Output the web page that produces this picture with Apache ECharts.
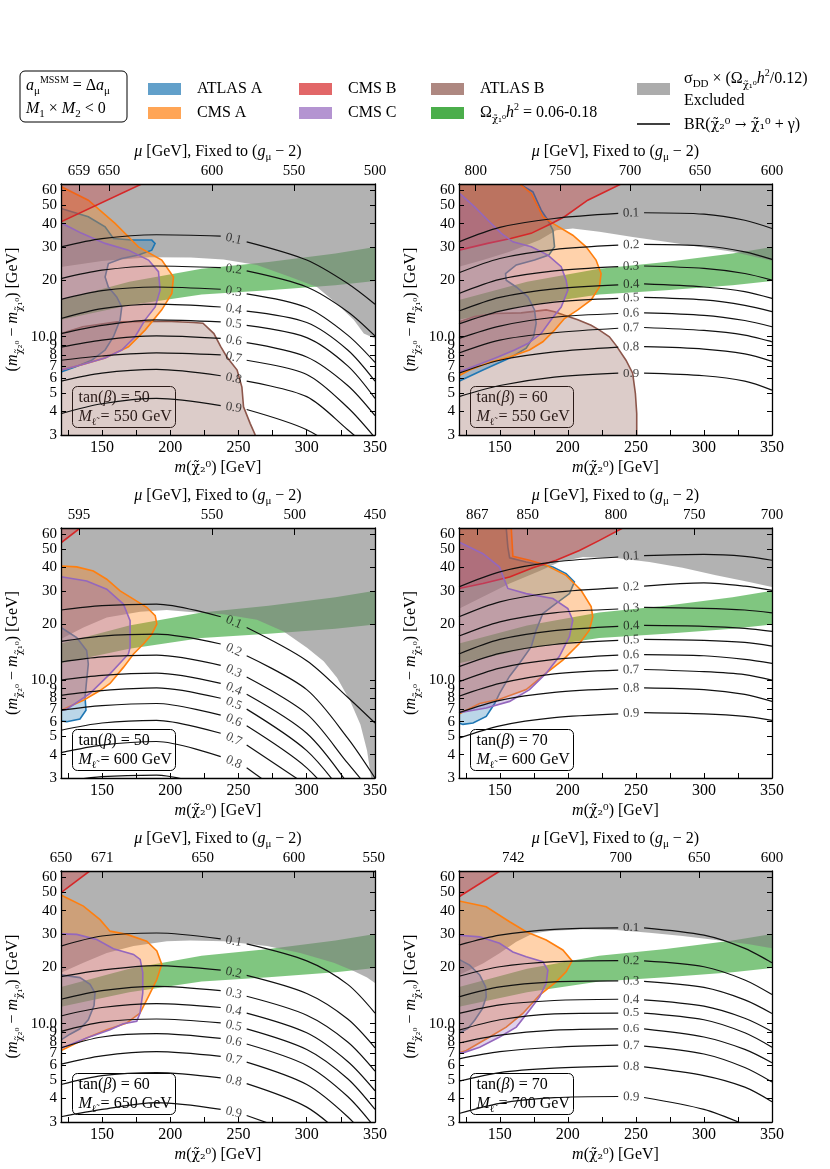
<!DOCTYPE html>
<html><head><meta charset="utf-8">
<script src="https://cdn.jsdelivr.net/npm/echarts@6.0.0/dist/echarts.min.js"></script>
<style>html,body{margin:0;padding:0;background:#fff;}#chart{width:830px;height:1169px;}</style>
</head><body><div id="chart"></div>
<script>
// ---------------- DATA ----------------
const brLevels = ['0.1','0.2','0.3','0.4','0.5','0.6','0.7','0.8','0.9'];
const brX = [120,150,190,237,256,300,330,350];
const yTickValues = [3,4,5,6,7,8,9,10,20,30,40,50,60];
const xTickValues = [125,150,175,200,225,250,275,300,325,350];
const xLabelValues = [150,200,250,300,350];
const panelTanBeta = ['50','60','50','70','60','70'];
const panelMslep = ['550','550','600','600','650','700'];

const muPos1 = [133.2,155.2,230.6,290.7,350]; const muLab1 = ['659','650','600','550','500'];
const muPos2 = [132.3,194.2,245.6,297.1,350]; const muLab2 = ['800','750','700','650','600'];
const muPos3 = [133.2,230.6,291.2,350];       const muLab3 = ['595','550','500','450'];
const muPos4 = [133.4,170.5,235.4,292.9,350]; const muLab4 = ['867','850','800','750','700'];
const muPos5 = [120,150.3,223.8,290.7,349];   const muLab5 = ['650','671','650','600','550'];
const muPos6 = [159.9,238.8,296.5,350];       const muLab6 = ['742','700','650','600'];

// relic density band (upper / lower edge)
const greenUpper = [[120,15.7],[170,19.6],[223,23.0],[272,25.0],[321,27.7],[350,30.0]];
const greenLower = [[120,12.3],[170,14.7],[223,16.8],[272,17.7],[321,18.8],[350,19.8]];

// BR contours (y values at brX)
const p1BR = [
 [30.1,33.3,34.9,34.3,32.0,25.6,19.2,14.9],
 [20.4,22.6,23.8,23.3,22.4,18.4,13.6,10.1],
 [15.8,17.6,18.4,17.9,16.9,14.3,10.2,7.3],
 [12.5,14.1,14.9,14.4,13.7,11.9,8.5,5.8],
 [10.4,11.5,12.3,12.0,11.5,9.9,7.0,4.7],
 [8.8,9.6,10.1,9.8,9.3,7.8,5.5,3.8],
 [7.5,7.9,8.2,8.0,7.5,6.3,4.2,2.9],
 [5.8,6.4,6.7,6.2,5.8,4.8,3.2,2.4],
 [3.9,4.4,4.7,4.3,4.1,3.2,2.3]];
const p2BR = [
 [32.0,38.2,42.6,45.3,45.7,44.9,41.7,37.7],
 [21.9,26.1,29.1,30.7,31.0,30.4,28.3,25.8],
 [17.0,20.2,22.4,23.6,23.8,23.1,21.7,20.0],
 [13.7,16.2,18.0,18.9,19.1,18.4,17.4,16.0],
 [11.7,13.7,15.3,16.0,16.2,15.7,14.7,13.6],
 [9.8,11.4,12.7,13.3,13.4,13.0,12.2,11.3],
 [8.2,9.6,10.5,11.1,11.2,10.8,10.2,9.4],
 [6.4,7.5,8.3,8.8,8.85,8.6,8.1,7.4],
 [4.8,5.5,6.1,6.4,6.4,6.2,5.8,5.2]];
const p3BR = [
 [23.7,25.0,25.5,21.8,19.1,12.7,8.1,5.9],
 [16.1,17.2,17.6,15.6,13.5,8.9,4.9,3.0],
 [12.5,13.3,13.6,12.0,10.4,6.6,3.6,2.4],
 [10.0,10.6,10.9,9.6,8.4,5.2,2.8],
 [8.3,8.8,9.1,8.0,7.0,4.2,2.3],
 [6.9,7.3,7.5,6.5,5.7,3.4,1.9],
 [5.4,5.9,6.1,5.2,4.5,2.75],
 [4.1,4.5,4.7,3.9,3.4,2.0],
 [2.87,3.05,3.11,2.6]];
const p4BR = [
 [31.5,37.9,42.8,45.5,46.3,47.0,45.9,43.7],
 [21.8,26.2,29.4,31.1,31.8,33.1,31.8,30.2],
 [17.2,20.5,22.9,24.0,24.5,24.2,23.7,22.9],
 [13.8,16.5,18.4,19.4,19.6,19.4,18.9,18.2],
 [11.8,13.9,15.5,16.3,16.5,16.3,15.9,15.2],
 [9.8,11.6,12.9,13.6,13.7,13.5,12.9,12.3],
 [8.2,9.6,10.8,11.3,11.4,11.1,10.7,10.0],
 [6.7,7.8,8.6,9.0,9.1,8.9,8.4,7.7],
 [4.9,5.7,6.3,6.6,6.7,6.6,6.4,6.1]];
const p5BR = [
 [25.9,29.3,30.4,28.3,26.6,21.6,16.2,11.4],
 [17.8,19.3,20.4,19.3,18.1,14.5,10.6,7.45],
 [13.5,15.0,15.8,15.0,14.0,11.1,8.0,5.6],
 [11.0,12.2,12.8,12.2,11.4,8.95,6.3,4.4],
 [9.1,10.2,10.6,10.1,9.4,7.3,5.1,3.5],
 [7.45,8.5,8.85,8.35,7.8,6.0,4.1,2.8],
 [6.1,6.75,7.1,6.7,6.25,4.75,3.2,2.2],
 [4.75,5.3,5.5,5.15,4.8,3.6,2.4],
 [3.2,3.5,3.8,3.5,3.25,2.5]];
const p6BR = [
 [26.2,29.6,31.8,32.4,32.4,29.6,25.2,21.1],
 [17.9,20.1,21.4,21.7,21.6,20.1,17.1,14.3],
 [13.9,15.7,16.7,16.9,16.8,15.6,13.4,11.35],
 [11.35,12.6,13.3,13.5,13.4,12.4,10.7,9.1],
 [9.25,10.5,11.3,11.4,11.4,10.5,8.95,7.5],
 [7.9,8.7,9.25,9.4,9.4,8.5,7.3,6.2],
 [6.5,7.1,7.5,7.7,7.6,6.9,5.85,4.9],
 [4.95,5.5,5.8,5.95,5.9,5.3,4.6,3.85],
 [3.33,3.77,4.04,4.1,4.05,3.5,2.9]];

// excluded (sigma_DD) lower boundary
const p1Gray = [[120,23.5],[150,25.3],[185,26.5],[215,26.4],[239,25.8],[263.5,24.1],[288,20.8],[307.5,18.4],[322,15.0],[334.4,12.3],[341.8,10.4],[350,9.8]];
const p2Gray = [[120,23.6],[137.6,25.6],[157.2,28.3],[179.2,32.7],[191.4,36.9],[203.6,37.7],[223.2,36.2],[247.6,34.0],[272,32.0],[296.5,30.1],[321,28.3],[350,25.4]];
const p3Gray = [[120,16.6],[136.4,19.1],[153.5,21.6],[177.9,23.2],[197.5,23.7],[214.6,23.1],[239.1,22.5],[263.5,21.0],[283.1,18.2],[300.2,14.9],[312.4,12.6],[322.2,10.3],[332,7.7],[339.3,5.8],[344.2,4.2],[347.2,3.0],[350,3]];
const p4Gray = [[120,24.1],[137.6,27.9],[157.2,32.8],[179.2,38.3],[193.8,42.8],[211,45.5],[235.4,45.0],[259.9,42.8],[284.3,39.9],[308.8,36.3],[333.2,33.5],[350,31.5]];
const p5Gray = [[120,18.7],[136.4,21.1],[153.5,23.8],[173.1,25.9],[197.5,27.5],[214.6,27.7],[239.1,27.5],[270.9,25.9],[295.3,23.8],[319.8,21.1],[334.4,19.1],[344.2,17.6],[350,16.5]];
const p6Gray = [[120,18.2],[137.6,20.9],[149.8,23.7],[162.1,27.3],[174.3,30.2],[186.5,31.2],[211,31.8],[235.4,31.5],[259.9,30.5],[284.3,29.3],[308.8,27.9],[333.2,26.5],[350,25.2]];

// CMS B
const p1Red = [[120,40.9],[179,65]];
const p2Red = [[120,28.9],[141,31.4],[158,33.3],[173,35.5],[188,40.1],[197.5,43.5],[214.6,53.3],[239,65]];
const p3Red = [[120,54.2],[134,65]];
const p4Red = [[120,30.9],[137.6,32.8],[157.2,35.6],[174.3,39.9],[191.4,43.7],[208.5,49.3],[223.2,55.8],[240.3,65]];
const p5Red = [[120,49.8],[141,65]];
const p6Red = [[120,47.4],[150,65]];

// CMS A
const p1Orange = [[120,63],[140,53.3],[159.6,40.1],[176.7,30.1],[193.8,25.6],[202.4,20.8],[201.2,17.0],[193.8,13.9],[181.6,10.85],[169.4,8.85],[152.3,7.7],[135.2,7.1],[120,6.65]];
const p2Orange = [[164.5,65],[173.1,57.9],[181.6,43.5],[189,40.1],[203.6,34.7],[213.4,30.1],[220.7,25.6],[224.4,21.7],[223.2,18.4],[217.1,15.7],[207.3,13.9],[197.5,12.5],[190.2,10.85],[181.6,9.4],[171.8,8.5],[157.2,7.8],[142.5,7.3],[127.8,6.65],[120,6.2]];
const p3Orange = [[120,40.7],[131.5,40.3],[143.7,38.3],[153.5,34.6],[163.3,30.0],[173.1,27.1],[182.8,24.5],[189,22.1],[190.2,19.9],[186.5,17.6],[180.4,15.6],[173.1,13.8],[165.7,11.7],[155.9,9.6],[148.6,8.8],[136.4,7.8],[120,6.9]];
const p4Orange = [[158.4,65],[159.6,45.9],[171.8,43.7],[184.1,41.1],[198.7,36.3],[209.7,30.2],[217.1,24.7],[218.3,21.8],[215.8,18.5],[208.5,15.7],[196.3,12.8],[184.1,10.9],[169.4,8.9],[149.8,7.9],[135.2,7.5],[120,6.6]];
const p5Orange = [[120,48.4],[136.4,42.3],[148.6,35.8],[155.9,31.1],[168.2,29.9],[182.8,27.5],[190.2,24.4],[193.8,20.7],[190.2,17.2],[184.1,14.0],[177.9,11.4],[168.2,10.1],[153.5,9.3],[138.8,8.4],[124.2,7.45],[120,7.2]];
const p6Orange = [[120,45.0],[140,41.9],[157.2,34.9],[169.4,30.9],[184.1,27.9],[196.3,24.7],[203.1,21.6],[198.7,18.9],[191.4,16.7],[179.2,14.2],[166.9,11.35],[154.7,9.6],[142.5,8.5],[125.4,7.2],[120,7.0]];

// ATLAS A
const p1Blue = [[120,48.2],[140,43.5],[152.3,38.5],[158.4,33.3],[171.8,32.7],[186.5,32.7],[188.9,31.4],[186.5,28.9],[176.7,27.2],[164.5,26.1],[154.7,24.5],[152.3,20.8],[154.7,18.4],[160.8,16.3],[164.5,14.4],[163.3,12.3],[158.4,10],[152.3,8.5],[142.5,7.5],[130.3,6.9],[120,6.5]];
const p2Blue = [[164.5,65],[174.3,59.1],[180.4,47.2],[185.3,41.7],[189,36.9],[190.2,30.1],[186,27.2],[175.5,25.6],[162.1,24.1],[154.2,21.7],[154.7,20.0],[162.1,18.4],[170.6,16.3],[175.5,13.9],[176.7,11.8],[174.8,10],[169.4,8.7],[157.2,7.7],[137.6,6.65],[120,5.8]];
const p3Blue = [[120,19.1],[131.5,16.9],[138.8,14.4],[140,12.2],[138.8,10.0],[137.6,8.1],[138.3,6.9],[133.9,6.2],[124.2,6.0],[120,6.05]];
const p4Blue = [[154.7,65],[155.9,51.4],[157.2,45.0],[169.4,42.8],[189,40.2],[198.7,37.1],[204.8,33.5],[201.2,29.0],[191.4,25.7],[181.6,22.7],[176.7,18.5],[173.1,15.1],[164.5,12.3],[157.2,10.5],[149.8,8.5],[146.2,7.5],[140,6.4],[130.3,5.9],[122.9,5.8],[120,5.9]];
const p5Blue = [[120,18.2],[133.9,17.6],[141.3,16.2],[144.9,14.6],[144.2,12.5],[140,10.5],[133.9,9.4],[126.6,8.8],[120,8.2]];
const p6Blue = [[120,22.0],[127.8,20.5],[135.2,18.2],[139.6,15.7],[140,13.9],[137.1,12.0],[131.5,10.45],[126.6,9.45],[120,8.9]];

// CMS C
const p1Purple = [[120,40.4],[135.2,35.5],[152.3,31.4],[169.4,28.9],[184.1,25.6],[191.4,22.2],[192.6,17.7],[189,14.4],[181.6,12.3],[174.3,10],[164.5,8.5],[152.3,7.7],[135.2,7.1],[120,6.65]];
const p2Purple = [[120,58.3],[131.5,49.1],[141.3,41.7],[151.1,35.5],[159.6,32.0],[173.1,30.1],[185.3,27.2],[195.1,23.6],[198.7,20.0],[200,17.7],[195.1,14.4],[187.7,12.3],[180.4,10.4],[170.6,9.2],[160.8,8.5],[148.6,7.8],[136.4,7.2],[120,6.5]];
const p3Purple = [[120,35.7],[138.8,33.9],[153.5,30.6],[165.7,25.5],[170.6,20.8],[170.6,15.0],[169.4,13.8],[155.9,10.8],[141.3,8.5],[124.2,7.0],[120,6.9]];
const p4Purple = [[120,54.7],[137.6,47.4],[149.8,40.2],[153.5,34.2],[155.9,30.9],[169.4,29.0],[189,27.3],[200,24.1],[203.6,20.9],[201.2,17.1],[193.8,13.4],[184.1,10.9],[171.8,8.9],[157.2,7.7],[140,7.1],[120,6.7]];
const p5Purple = [[120,30.1],[131.5,29.9],[146.2,28.1],[158.4,25.1],[173.1,23.4],[178,22.0],[179.9,18.7],[179.9,14.6],[177.9,11.4],[175.5,10.3],[165.7,10.0],[155.9,9.3],[138.8,8.4],[120,7.4]];
const p6Purple = [[120,29.6],[135.2,29.0],[149.8,26.8],[159.6,24.1],[169.4,22.7],[181.6,21.4],[185.3,19.3],[184.1,16.4],[179.2,13.9],[171.8,11.8],[162.1,9.6],[149.8,8.5],[135.2,7.5],[122.9,7.0],[120,7.0]];

// ATLAS B
const p1Brown = [[120,10.4],[136,11.3],[161,12.0],[197,12.1],[217,11.9],[224,11.8],[232,10.4],[237,8.85],[241.5,7.8],[249,6.65],[252.5,5.4],[253.7,4.24],[258.6,3.45],[262.3,3]];
const p2Brown = [[120,12.0],[131.5,12.8],[146.2,13.3],[165.7,13.4],[184.1,13.9],[190.2,13.6],[197.5,13.0],[207.3,12.3],[217.1,11.5],[223.2,10.85],[230.5,10],[235.4,9.0],[242.7,7.5],[247.6,6.4],[249.6,5.0],[250.6,3.9],[250.6,3]];

// ---------------- LAYOUT / STYLE ----------------
const FONT = '"Liberation Serif","DejaVu Serif",serif';
const DJ = '"DejaVu Serif"';
const X_MIN = 120, X_MAX = 350, Y_MIN = 3, Y_MAX = 65;
const L = Math.log10;
const grids = [[61,184,314,251],[459,184,313,251],[61,528,314,250],[459,528,313,250],[61,871,314,251],[459,871,313,251]];
const COL = {blue:[31,119,180], orange:[255,127,14], green:[44,160,44], red:[214,39,40], purple:[148,103,189], brown:[140,86,75], gray:[127,127,127]};
const rgba = (c,a) => `rgba(${c[0]},${c[1]},${c[2]},${a})`;
const rgb = c => `rgb(${c[0]},${c[1]},${c[2]})`;
const CHI = 'χ\u0303';

const RICH = {
  i:{fontStyle:'italic', fontFamily:FONT, fontSize:16, color:'#000', lineHeight:22},
  sub:{fontSize:11, fontFamily:FONT, color:'#000', verticalAlign:'bottom'},
  sup:{fontSize:10, fontFamily:FONT, color:'#000', verticalAlign:'top'},
  c:{fontSize:14, fontFamily:DJ, color:'#000', lineHeight:22},
  cs:{fontSize:10, fontFamily:DJ, color:'#000', verticalAlign:'bottom'}
};

const panels = [
 {br:p1BR, gray:p1Gray, red:p1Red, orange:p1Orange, blue:p1Blue, purple:p1Purple, brown:p1Brown, muPos:muPos1, muLab:muLab1},
 {br:p2BR, gray:p2Gray, red:p2Red, orange:p2Orange, blue:p2Blue, purple:p2Purple, brown:p2Brown, muPos:muPos2, muLab:muLab2},
 {br:p3BR, gray:p3Gray, red:p3Red, orange:p3Orange, blue:p3Blue, purple:p3Purple, brown:null, muPos:muPos3, muLab:muLab3},
 {br:p4BR, gray:p4Gray, red:p4Red, orange:p4Orange, blue:p4Blue, purple:p4Purple, brown:null, muPos:muPos4, muLab:muLab4},
 {br:p5BR, gray:p5Gray, red:p5Red, orange:p5Orange, blue:p5Blue, purple:p5Purple, brown:null, muPos:muPos5, muLab:muLab5},
 {br:p6BR, gray:p6Gray, red:p6Red, orange:p6Orange, blue:p6Blue, purple:p6Purple, brown:null, muPos:muPos6, muLab:muLab6}
];

function region(xi, yi, edge, close, fill, stroke, z) {
  return {
    type:'custom', coordinateSystem:'cartesian2d', xAxisIndex:xi, yAxisIndex:yi, z:z,
    silent:true, clip:true, animation:false,
    data:[[X_MIN, L(Y_MIN)]],
    renderItem:function(params, api){
      const toPx = p => api.coord([p[0], L(p[1])]);
      const e = edge.map(toPx);
      const c = close.map(toPx);
      const children = [{type:'polygon', shape:{points:e.concat(c)}, style:{fill:fill}}];
      if (stroke) children.push({type:'polyline', shape:{points:e}, style:{fill:'none', stroke:stroke, lineWidth:1.6}});
      return {type:'group', children:children};
    }
  };
}
function contourSeg(xi, yi, pts) {
  return {type:'line', xAxisIndex:xi, yAxisIndex:yi, data:pts, smooth:0.3, showSymbol:false, symbol:'none',
    lineStyle:{color:'#111', width:1.2}, z:8, silent:true, animation:false};
}

const series = [], xAxes = [], yAxes = [], gridOpts = [], graphics = [];
const TOPCLOSE = [[X_MAX,Y_MAX],[X_MIN,Y_MAX]];
const TL = [[X_MIN,Y_MAX]];
const BLC = [[X_MIN,Y_MIN]];

panels.forEach((p, g) => {
  const [gx, gy, gw, gh] = grids[g];
  gridOpts.push({left:gx, top:gy, width:gw, height:gh, containLabel:false});
  const xi = g*2, yi = g*2;
  const axisLine = {show:true, onZero:false, lineStyle:{color:'#000', width:1.3}};
  xAxes.push({gridIndex:g, type:'value', min:X_MIN, max:X_MAX, position:'bottom', z:20,
    axisLine:axisLine,
    axisTick:{show:true, inside:true, length:5, customValues:xTickValues, lineStyle:{color:'#000', width:1}},
    axisLabel:{show:true, customValues:xLabelValues, margin:5, fontSize:16, fontFamily:FONT, color:'#000'},
    splitLine:{show:false},
    name:'{i|m}({c|' + CHI + '₂⁰}) [GeV]', nameLocation:'middle', nameGap:22,
    nameTextStyle:{fontSize:16, fontFamily:FONT, color:'#000', rich:RICH}});
  const muPos = p.muPos, muLab = p.muLab;
  xAxes.push({gridIndex:g, type:'value', min:X_MIN, max:X_MAX, position:'top', z:20,
    axisLine:axisLine,
    axisTick:{show:true, inside:true, length:7, customValues:muPos, lineStyle:{color:'#000', width:1}},
    axisLabel:{show:true, customValues:muPos, margin:5, fontSize:15, fontFamily:FONT, color:'#000',
      formatter:function(v){ const k = muPos.findIndex(q => Math.abs(q - v) < 0.01); return k >= 0 ? muLab[k] : ''; }},
    splitLine:{show:false},
    name:'{i|μ} [GeV], Fixed to ({i|g}{sub|μ} − 2)', nameLocation:'middle', nameGap:19,
    nameTextStyle:{fontSize:16, fontFamily:FONT, color:'#000', rich:RICH}});
  const yt = yTickValues.map(L);
  yAxes.push({gridIndex:g, type:'value', min:L(Y_MIN), max:L(Y_MAX), position:'left', z:20,
    axisLine:axisLine,
    axisTick:{show:true, inside:true, length:5, customValues:yt, lineStyle:{color:'#000', width:1}},
    axisLabel:{show:true, customValues:yt, margin:4, fontSize:15, fontFamily:FONT, color:'#000',
      formatter:function(v){ const n = Math.round(Math.pow(10, v)); return n === 10 ? '10.0' : String(n); }},
    splitLine:{show:false},
    name:'({i|m}{cs|' + CHI + '₂⁰} − {i|m}{cs|' + CHI + '₁⁰}) [GeV]', nameLocation:'middle', nameGap:37,
    nameTextStyle:{fontSize:16, fontFamily:FONT, color:'#000', rich:RICH}});
  yAxes.push({gridIndex:g, type:'value', min:L(Y_MIN), max:L(Y_MAX), position:'right', z:20,
    axisLine:axisLine,
    axisTick:{show:true, inside:true, length:5, customValues:yt, lineStyle:{color:'#000', width:1}},
    axisLabel:{show:false}, splitLine:{show:false}});

  // regions
  series.push(region(xi, yi, greenUpper.concat(greenLower.slice().reverse()), [], rgba(COL.green,0.6), null, 1));
  series.push(region(xi, yi, p.gray, TOPCLOSE, rgba(COL.gray,0.6), null, 2));
  if (p.brown) series.push(region(xi, yi, p.brown, BLC, rgba(COL.brown,0.3), rgb(COL.brown), 3));
  series.push(region(xi, yi, p.blue, TL, rgba(COL.blue,0.3), rgb(COL.blue), 4));
  series.push(region(xi, yi, p.orange, TL, rgba(COL.orange,0.35), rgb(COL.orange), 5));
  series.push(region(xi, yi, p.red, TL, rgba(COL.red,0.3), rgb(COL.red), 6));
  series.push(region(xi, yi, p.purple, TL, rgba(COL.purple,0.3), rgb(COL.purple), 7));

  // contours
  const pxPerX = gw / (X_MAX - X_MIN);
  const pxPerDec = gh / (L(Y_MAX) - L(Y_MIN));
  const labels = [];
  p.br.forEach((ys, k) => {
    const pts = ys.map((y, j) => [brX[j], L(y)]);
    series.push(contourSeg(xi, yi, pts.slice(0,4)));
    if (pts.length > 4) {
      series.push(contourSeg(xi, yi, pts.slice(4)));
      const my = (pts[3][1] + pts[4][1]) / 2;
      if (my > L(Y_MIN) + 0.015) {
        const ang = Math.atan2((pts[4][1] - pts[3][1]) * pxPerDec, (brX[4] - brX[3]) * pxPerX) * 180 / Math.PI;
        labels.push({value:[(brX[3] + brX[4]) / 2, my], label:{rotate:ang, formatter:brLevels[k]}});
      }
    }
  });
  series.push({type:'scatter', xAxisIndex:xi, yAxisIndex:yi, symbolSize:0, z:9, silent:true, animation:false,
    data:labels, label:{show:true, position:'inside', fontSize:13, fontFamily:FONT, color:'#111'}});

  // info box
  graphics.push({type:'group', left:gx+11, top:gy+gh-49, z:100, children:[
    {type:'rect', shape:{x:0, y:0, width:103, height:41, r:5}, style:{fill:'#fff', stroke:'#000', lineWidth:1}},
    {type:'text', x:6, y:11, style:{text:'tan({i|β}) = ' + panelTanBeta[g], fontSize:16, fontFamily:FONT, fill:'#000', verticalAlign:'middle', textVerticalAlign:'middle', rich:RICH}},
    {type:'text', x:6, y:30, style:{text:'{i|M}{cs|ℓ\u0303} = ' + panelMslep[g] + ' GeV', fontSize:16, fontFamily:FONT, fill:'#000', verticalAlign:'middle', textVerticalAlign:'middle', rich:RICH}}
  ]});
});

// ---------------- LEGEND ----------------
function txt(x, y, s) {
  return {type:'text', x:x, y:y, z:100, style:{text:s, fontSize:16, fontFamily:FONT, fill:'#000', verticalAlign:'middle', textVerticalAlign:'middle', rich:RICH}};
}
graphics.push({type:'rect', z:100, shape:{x:20, y:71, width:107, height:51, r:5}, style:{fill:'#fff', stroke:'#000', lineWidth:1}});
graphics.push(txt(26, 86, '{i|a}{sub|μ}{sup|MSSM} = Δ{i|a}{sub|μ}'));
graphics.push(txt(26, 109, '{i|M}{sub|1} × {i|M}{sub|2} < 0'));
const legendItems = [
 [148, 89, rgba(COL.blue,0.7), 'ATLAS A'],
 [148, 113, rgba(COL.orange,0.7), 'CMS A'],
 [299, 89, rgba(COL.red,0.7), 'CMS B'],
 [299, 113, rgba(COL.purple,0.7), 'CMS C'],
 [431, 89, rgba(COL.brown,0.7), 'ATLAS B'],
 [431, 113, rgba(COL.green,0.85), 'Ω{cs|' + CHI + '₁⁰}{i|h}{sup|2} = 0.06-0.18']
];
legendItems.forEach(it => {
  graphics.push({type:'rect', z:100, shape:{x:it[0], y:it[1]-6, width:33, height:12}, style:{fill:it[2]}});
  graphics.push(txt(it[0]+49, it[1], it[3]));
});
graphics.push({type:'rect', z:100, shape:{x:637, y:83, width:33, height:12}, style:{fill:rgba(COL.gray,0.65)}});
graphics.push(txt(684, 79, 'σ{sub|DD} × (Ω{cs|' + CHI + '₁⁰}{i|h}{sup|2}/0.12)'));
graphics.push(txt(684, 101, 'Excluded'));
graphics.push({type:'line', z:100, shape:{x1:637, y1:124, x2:670, y2:124}, style:{stroke:'#000', lineWidth:1.5}});
graphics.push(txt(684, 125, 'BR({c|' + CHI + '₂⁰ → ' + CHI + '₁⁰} + γ)'));

const chart = echarts.init(document.getElementById('chart'), null, {renderer:'canvas'});
chart.setOption({
  animation:false, backgroundColor:'#fff',
  grid:gridOpts, xAxis:xAxes, yAxis:yAxes, series:series, graphic:graphics
});
</script></body></html>
